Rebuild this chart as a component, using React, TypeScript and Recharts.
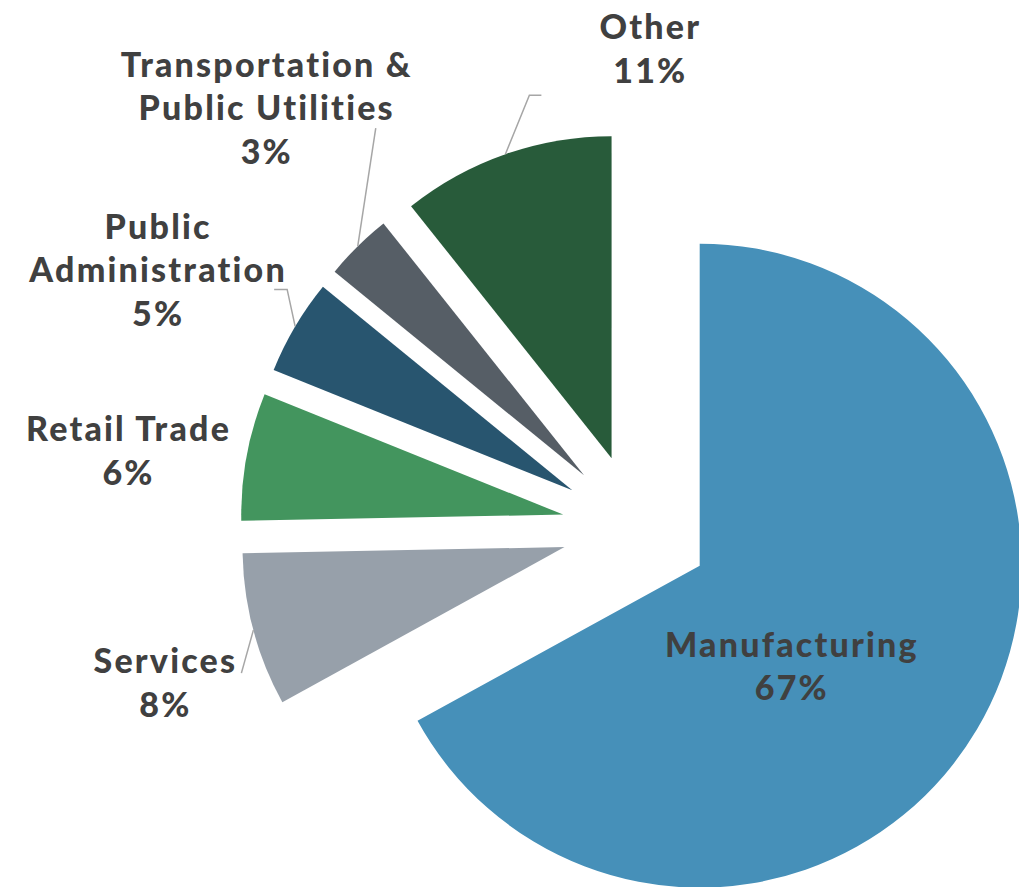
import { PieChart, Pie, Cell, Sector } from "recharts";

// share of employment by industry (percent)
const categories = [
  "Manufacturing",
  "Services",
  "Retail Trade",
  "Public Administration",
  "Transportation & Public Utilities",
  "Other",
];
const shares = [67.0, 7.7, 6.4, 4.8, 3.4, 10.7];
const labelText = [
  ["Manufacturing"],
  ["Services"],
  ["Retail Trade"],
  ["Public", "Administration"],
  ["Transportation &", "Public Utilities"],
  ["Other"],
];
const colors = ["#4690b9", "#97a0aa", "#43955e", "#28556f", "#565e66", "#285b3a"];

const data = categories.map((name, i) => ({ name, value: shares[i] }));

const RAD = Math.PI / 180;
const EXPLODE = 74;
const LINE_H = 43.5;

// label offsets relative to the middle of each slice's outer arc
const LABEL_LAYOUT: Record<string, { dx: number; dy: number; leader: number[][] }> = {
  Manufacturing: { dx: -186, dy: -65, leader: [] },
  Services: { dx: -89, dy: 51, leader: [[0, 0], [-12, 43]] },
  "Retail Trade": { dx: -119, dy: -7, leader: [] },
  "Public Administration": { dx: -138, dy: -58, leader: [[0, 0], [-8, -37], [-21, -37]] },
  "Transportation & Public Utilities": { dx: -92, dy: -140, leader: [[0, 0], [18, -118]] },
  Other: { dx: 144, dy: -107, leader: [[0, 0], [24, -59], [36, -59]] },
};

// eslint-disable-next-line @typescript-eslint/no-explicit-any
const renderSlice = (props: any) => {
  const { cx, cy, midAngle, innerRadius, outerRadius, startAngle, endAngle, fill } = props;
  const a = -midAngle * RAD;
  return (
    <Sector
      cx={cx + EXPLODE * Math.cos(a)}
      cy={cy + EXPLODE * Math.sin(a)}
      innerRadius={innerRadius}
      outerRadius={outerRadius}
      startAngle={startAngle}
      endAngle={endAngle}
      fill={fill}
      stroke="none"
    />
  );
};

// eslint-disable-next-line @typescript-eslint/no-explicit-any
const renderLabel = (props: any) => {
  const { cx, cy, midAngle, outerRadius, percent, index } = props;
  const a = -midAngle * RAD;
  const mx = cx + (EXPLODE + outerRadius) * Math.cos(a);
  const my = cy + (EXPLODE + outerRadius) * Math.sin(a);
  const lay = LABEL_LAYOUT[categories[index]];
  const lines = [...labelText[index], `${Math.round(percent * 100)}%`];
  const x = mx + lay.dx + 1;
  const y0 = my + lay.dy - ((lines.length - 1) * LINE_H) / 2;

  return (
    <g key={`label-${index}`}>
      {lay.leader.length > 1 && (
        <polyline
          points={lay.leader.map(([px, py]) => `${mx + px},${my + py}`).join(" ")}
          fill="none"
          stroke="#a6a6a6"
          strokeWidth={1.5}
        />
      )}
      <text
        x={x}
        y={y0}
        textAnchor="middle"
        dominantBaseline="central"
        fill="#404040"
        fontFamily="Lato, 'Open Sans', sans-serif"
        fontWeight={900}
        fontSize={34}
        letterSpacing={2.2}
        style={{ fontVariantLigatures: "none" }}
      >
        {lines.map((line, k) => (
          <tspan key={k} x={x} y={y0 + k * LINE_H}>
            {line}
          </tspan>
        ))}
      </text>
    </g>
  );
};

export default function App() {
  return (
    <div
      style={{
        position: "absolute",
        left: 0,
        top: 0,
        width: 1019,
        height: 887,
        overflow: "hidden",
        background: "#fff",
      }}
    >
      <PieChart width={1019} height={887} margin={{ top: 0, right: 0, bottom: 0, left: 0 }}>
        <Pie
          data={data}
          dataKey="value"
          nameKey="name"
          cx={636}
          cy={528}
          outerRadius={322}
          startAngle={90}
          endAngle={-270}
          stroke="none"
          shape={renderSlice}
          label={renderLabel}
          labelLine={false}
          isAnimationActive={false}
        >
          {data.map((d, i) => (
            <Cell key={d.name} fill={colors[i]} />
          ))}
        </Pie>
      </PieChart>
    </div>
  );
}
